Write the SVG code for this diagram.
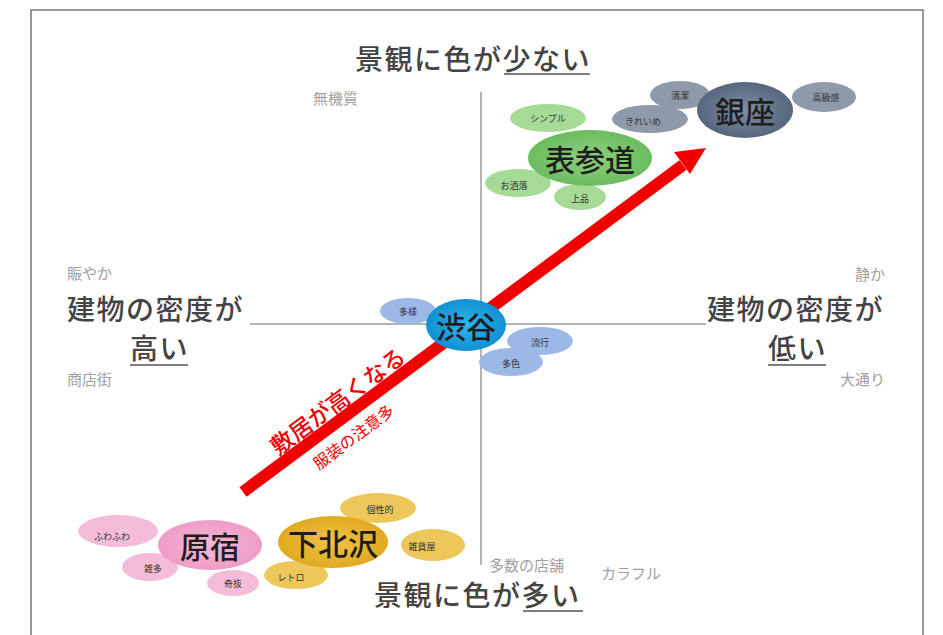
<svg xmlns="http://www.w3.org/2000/svg" width="943" height="635" viewBox="0 0 943 635">
<style>
text{font-family:"Noto Sans CJK JP","Noto Sans",sans-serif;}
.ax{stroke:#9a9a9a;stroke-width:1.5;fill:none}
.title{font-size:28px;fill:#444;font-weight:500;letter-spacing:1.5px}
.side{font-size:15px;fill:#a0a0a0}
.main{font-size:30px;fill:#1e1e1e;font-weight:500;text-anchor:middle;dominant-baseline:central}
.sub{font-size:9px;fill:#333;text-anchor:middle;dominant-baseline:central}
.ul{stroke:#555;stroke-width:1.5}
</style>
<defs>
<radialGradient id="gGinza"><stop offset="0" stop-color="#7f8ea3"/><stop offset="1" stop-color="#56667d"/></radialGradient>
<radialGradient id="gOmo"><stop offset="0" stop-color="#8fd07f"/><stop offset="1" stop-color="#6bbd5e"/></radialGradient>
<radialGradient id="gShi"><stop offset="0" stop-color="#2fb4ec"/><stop offset="1" stop-color="#1190d2"/></radialGradient>
<radialGradient id="gHara"><stop offset="0" stop-color="#f6b6d6"/><stop offset="1" stop-color="#ef9cc6"/></radialGradient>
<radialGradient id="gShimo"><stop offset="0" stop-color="#f0c444"/><stop offset="1" stop-color="#e0aa20"/></radialGradient>
</defs>
<rect x="0" y="0" width="943" height="635" fill="#fff"/>
<path d="M31 640 V10 H923 V640" fill="none" stroke="#777" stroke-width="1.5"/>

<g id="axes">
<line class="ax" x1="481" y1="92" x2="481" y2="565"/>
<line class="ax" x1="250" y1="324" x2="706" y2="324"/>
</g>

<g id="labels">
<text class="title" x="355" y="70">景観に色が少ない</text>
<line class="ul" x1="504" y1="74" x2="590" y2="74"/>
<text class="side" x="313" y="104">無機質</text>
<text class="title" x="374" y="606">景観に色が多い</text>
<line class="ul" x1="523" y1="611" x2="583" y2="611"/>
<text class="side" x="489" y="571">多数の店舗</text>
<text class="side" x="601" y="579">カラフル</text>
<text class="side" x="67" y="279">賑やか</text>
<text class="title" x="67" y="320">建物の密度が</text>
<text class="title" x="130" y="359">高い</text>
<line class="ul" x1="130" y1="365" x2="188" y2="365"/>
<text class="side" x="67" y="385">商店街</text>
<text class="side" x="885" y="280" text-anchor="end">静か</text>
<text class="title" x="707" y="320">建物の密度が</text>
<text class="title" x="768" y="359">低い</text>
<line class="ul" x1="768" y1="365" x2="826" y2="365"/>
<text class="side" x="885" y="385" text-anchor="end">大通り</text>
</g>

<g id="connectors">
<line x1="243" y1="492" x2="683" y2="165" stroke="#f00000" stroke-width="12"/>
<polygon points="706,148 674,152 690,174" fill="#f00000"/>
<text transform="translate(337,400) rotate(-36.6)" font-size="23" fill="#f00000" text-anchor="middle" dominant-baseline="central" font-weight="500">敷居が高くなる</text>
<text transform="translate(353,436) rotate(-36.6)" font-size="16" fill="#f00000" text-anchor="middle" dominant-baseline="central">服装の注意多</text>
</g>

<g id="ginza">
<ellipse cx="680" cy="95" rx="30" ry="14" fill="#8e99aa"/>
<ellipse cx="650" cy="119" rx="38" ry="14" fill="#8e99aa"/>
<ellipse cx="824" cy="97" rx="32" ry="15" fill="#8e99aa"/>
<ellipse cx="745" cy="110" rx="48" ry="28" fill="url(#gGinza)"/>
<text class="sub" x="680" y="95">清潔</text>
<text class="sub" x="643" y="121">きれいめ</text>
<text class="sub" x="826" y="97">高級感</text>
<text class="main" x="745" y="110">銀座</text>
</g>

<g id="omotesando">
<ellipse cx="548" cy="118" rx="38" ry="14" fill="#a6da97"/>
<ellipse cx="518" cy="183" rx="33" ry="14" fill="#a6da97"/>
<ellipse cx="580" cy="197" rx="26" ry="13" fill="#a6da97"/>
<ellipse cx="590" cy="158" rx="62" ry="28" fill="url(#gOmo)"/>
<text class="sub" x="548" y="118">シンプル</text>
<text class="sub" x="514" y="185">お洒落</text>
<text class="sub" x="580" y="198">上品</text>
<text class="main" x="590" y="158">表参道</text>
</g>

<g id="shibuya">
<ellipse cx="408" cy="311" rx="28" ry="13" fill="#9cb8e6"/>
<ellipse cx="540" cy="341" rx="33" ry="14" fill="#9cb8e6"/>
<ellipse cx="511" cy="362" rx="32" ry="14" fill="#9cb8e6"/>
<ellipse cx="466" cy="325" rx="40" ry="26" fill="url(#gShi)"/>
<text class="sub" x="408" y="311">多様</text>
<text class="sub" x="540" y="342">流行</text>
<text class="sub" x="511" y="363">多色</text>
<text class="main" x="466" y="325">渋谷</text>
</g>

<g id="harajuku">
<ellipse cx="118" cy="531" rx="40" ry="16" fill="#f5bcd9"/>
<ellipse cx="150" cy="567" rx="28" ry="14" fill="#f5bcd9"/>
<ellipse cx="233" cy="583" rx="26" ry="13" fill="#f5bcd9"/>
<ellipse cx="210" cy="545" rx="52" ry="25" fill="url(#gHara)"/>
<text class="sub" x="112" y="536">ふわふわ</text>
<text class="sub" x="153" y="568">雑多</text>
<text class="sub" x="233" y="583">奇抜</text>
<text class="main" x="210" y="545">原宿</text>
</g>

<g id="shimokitazawa">
<ellipse cx="378" cy="508" rx="38" ry="15" fill="#eec75a"/>
<ellipse cx="433" cy="545" rx="32" ry="16" fill="#eec75a"/>
<ellipse cx="296" cy="575" rx="32" ry="14" fill="#eec75a"/>
<ellipse cx="333" cy="542" rx="55" ry="26" fill="url(#gShimo)"/>
<text class="sub" x="380" y="509">個性的</text>
<text class="sub" x="422" y="546">雑貨屋</text>
<text class="sub" x="291" y="577">レトロ</text>
<text class="main" x="333" y="542">下北沢</text>
</g>
</svg>
